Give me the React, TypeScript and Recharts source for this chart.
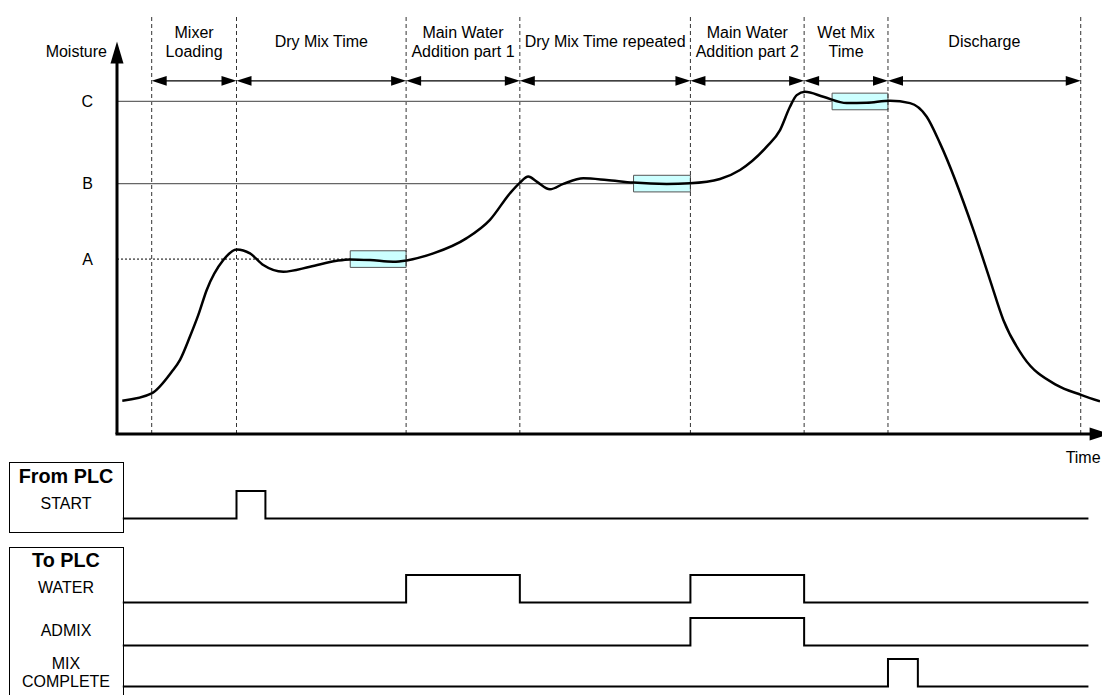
import React from 'react';
import { ComposedChart, LineChart, Line, XAxis, YAxis, ReferenceLine, ReferenceArea } from 'recharts';

const FONT = '"Liberation Sans", Arial, Helvetica, sans-serif';
const FS = 16;

// ---- data (time in arbitrary units, moisture in arbitrary units) ----
const phaseBounds = [3.6, 12.4, 30, 41.8, 59.5, 71.3, 80, 100];
const phaseNames = [
  'Mixer\nLoading',
  'Dry Mix Time',
  'Main Water\nAddition part 1',
  'Dry Mix Time repeated',
  'Main Water\nAddition part 2',
  'Wet Mix\nTime',
  'Discharge',
];
const phaseArrowLevel = 106.2;

const levelNames = ['A', 'B', 'C'];
const levelValues = [52.6, 75.3, 100];
const toleranceStart = [24.2, 53.6, 74.2];
const toleranceEnd = [30, 59.5, 80];
const toleranceHalf = 2.5;

const curveTime = [
  0.55, 3.6, 5.68, 6.54, 7.57, 8.44, 9.31, 11.03, 12.42, 13.8, 15.18, 17.26, 20.03, 22.8, 24.18, 26.25,
  28.67, 30.06, 32.82, 36.29, 38.7, 40.78, 41.82, 42.68, 43.55, 44.93, 46.31, 48.39, 50.81, 53.57, 57.04,
  59.46, 62.57, 64.65, 67.42, 68.8, 69.83, 70.53, 71.39, 73.29, 75.72, 77.79, 80.21, 82.29, 84.02, 85.4,
  88.86, 90.59, 91.97, 94.04, 97.51, 100.1, 102,
];
const curveMoisture = [
  10.0, 12.2, 18.7, 22.3, 29.3, 35.8, 43.3, 52.3, 55.5, 54.3, 50.8, 48.8, 50.3, 52.1, 52.5, 52.3,
  51.8, 52.2, 54.3, 58.9, 64.4, 72.4, 75.6, 77.4, 75.9, 73.6, 75.2, 76.9, 76.4, 75.6, 75.2,
  75.4, 76.7, 79.4, 86.4, 91.4, 98.4, 101.9, 102.9, 101.4, 99.5, 99.6, 100.2, 99.5, 95.4, 87.4,
  61.4, 46.3, 34.3, 23.2, 14.7, 11.7, 9.8,
];

const startEdges = [0.6, 12.4, 15.4, 100.8];
const startLevels = [0, 1, 0, 0];
const waterEdges = [0.6, 30, 41.8, 59.5, 71.3, 100.8];
const waterLevels = [0, 1, 0, 1, 0, 0];
const admixEdges = [0.6, 59.5, 71.3, 100.8];
const admixLevels = [0, 1, 0, 0];
const mixEdges = [0.6, 80, 83.1, 100.8];
const mixLevels = [0, 1, 0, 0];

const curveData = curveTime.map((t, i) => ({ t, m: curveMoisture[i] }));

// ---- shapes ----
const YAxisArrow = (p: any) => {
  const { x1, y1, x2, y2 } = p;
  return (
    <g>
      <line x1={x1} y1={y1} x2={x2} y2={y2 + 18} stroke="#000" strokeWidth={3} />
      <polygon points={`${x2},${y2} ${x2 - 6.5},${y2 + 22} ${x2 + 6.5},${y2 + 22}`} fill="#000" />
      <text x={x2 - 10} y={y2 + 10} textAnchor="end" dominantBaseline="central" fontFamily={FONT} fontSize={FS} fill="#000">
        Moisture
      </text>
    </g>
  );
};

const XAxisArrow = (p: any) => {
  const { x1, y1, x2, y2 } = p;
  return (
    <g>
      <line x1={x1 - 1.5} y1={y1} x2={x2 - 18} y2={y2} stroke="#000" strokeWidth={3} />
      <polygon points={`${x2},${y2} ${x2 - 20},${y2 - 6.5} ${x2 - 20},${y2 + 6.5}`} fill="#000" />
      <text x={x2 - 44} y={y2 + 23} textAnchor="start" dominantBaseline="central" fontFamily={FONT} fontSize={FS} fill="#000">
        Time
      </text>
    </g>
  );
};

const makePhaseArrow = (name: string) => (p: any) => {
  const { x1, y1, x2 } = p;
  const y = y1;
  const L = 15;
  const H = 4.8;
  const lines = name.split('\n');
  const cx = (x1 + x2) / 2;
  return (
    <g>
      <line x1={x1 + L - 1} y1={y} x2={x2 - L + 1} y2={y} stroke="#000" strokeWidth={1.4} />
      <polygon points={`${x1},${y} ${x1 + L},${y - H} ${x1 + L},${y + H}`} fill="#000" />
      <polygon points={`${x2},${y} ${x2 - L},${y - H} ${x2 - L},${y + H}`} fill="#000" />
      {lines.length === 1 ? (
        <text x={cx} y={y - 39} textAnchor="middle" dominantBaseline="central" fontFamily={FONT} fontSize={FS} fill="#000">
          {lines[0]}
        </text>
      ) : (
        lines.map((ln, i) => (
          <text key={i} x={cx} y={y - 48 + i * 19} textAnchor="middle" dominantBaseline="central" fontFamily={FONT} fontSize={FS} fill="#000">
            {ln}
          </text>
        ))
      )}
    </g>
  );
};

function SignalChart({ edges, levels, top }: { edges: number[]; levels: number[]; top: number }) {
  const data = edges.map((t, i) => ({ t, v: levels[i] }));
  return (
    <div style={{ position: 'absolute', left: 0, top }}>
      <LineChart width={1102} height={47.5} data={data} margin={{ top: 10, right: 2, bottom: 10, left: 117 }}>
        <XAxis type="number" dataKey="t" domain={[0, 102]} hide />
        <YAxis type="number" domain={[0, 1]} hide />
        <Line type="stepAfter" dataKey="v" stroke="#000" strokeWidth={2} dot={false} isAnimationActive={false} />
      </LineChart>
    </div>
  );
}

const txt = (s: string, cx: number, cy: number, bold = false, size = FS) => (
  <div
    style={{
      position: 'absolute',
      left: cx,
      top: cy,
      transform: 'translate(-50%, -50%)',
      fontFamily: FONT,
      fontSize: size,
      fontWeight: bold ? 700 : 400,
      lineHeight: 1,
      whiteSpace: 'nowrap',
      color: '#000',
    }}
  >
    {s}
  </div>
);

export default function App() {
  return (
    <div style={{ position: 'absolute', left: 0, top: 0, width: 1102, height: 695, overflow: 'hidden', background: '#fff' }}>
      <div style={{ position: 'absolute', left: 0, top: 0 }}>
        <ComposedChart width={1102} height={470} data={curveData} margin={{ top: 15, right: 2, bottom: 36, left: 0 }}>
          <XAxis type="number" dataKey="t" domain={[0, 102]} hide allowDataOverflow />
          <YAxis
            type="number"
            domain={[0, 126]}
            width={117}
            ticks={levelValues}
            tickFormatter={(v: number) => levelNames[levelValues.indexOf(v)] ?? ''}
            axisLine={false}
            tickLine={false}
            tickSize={0}
            tickMargin={24}
            tick={{ fill: '#000', fontSize: FS, fontFamily: FONT }}
            allowDataOverflow
          />
          {phaseBounds.map((b) => (
            <ReferenceLine key={`v${b}`} x={b} stroke="#333" strokeWidth={1} strokeDasharray="4 3" />
          ))}
          {levelValues.map((lv, i) => (
            <ReferenceLine
              key={`l${i}`}
              segment={[{ x: 0, y: lv }, { x: toleranceStart[i], y: lv }]}
              stroke={i === 0 ? '#000' : '#666'}
              strokeWidth={i === 0 ? 1 : 1.3}
              strokeDasharray={i === 0 ? '2 2' : undefined}
            />
          ))}
          {levelValues.map((lv, i) => (
            <ReferenceArea
              key={`a${i}`}
              x1={toleranceStart[i]}
              x2={toleranceEnd[i]}
              y1={lv - toleranceHalf}
              y2={lv + toleranceHalf}
              fill="#CCFFFF"
              fillOpacity={1}
              stroke="#555"
              strokeWidth={1}
            />
          ))}
          {phaseNames.map((n, i) => (
            <ReferenceLine
              key={`p${i}`}
              segment={[{ x: phaseBounds[i], y: phaseArrowLevel }, { x: phaseBounds[i + 1], y: phaseArrowLevel }]}
              shape={makePhaseArrow(n)}
            />
          ))}
          <ReferenceLine segment={[{ x: 0, y: 0 }, { x: 0, y: 118 }]} shape={YAxisArrow} ifOverflow="visible" />
          <ReferenceLine segment={[{ x: 0, y: 0 }, { x: 103, y: 0 }]} shape={XAxisArrow} ifOverflow="visible" />
          <Line type="monotone" dataKey="m" stroke="#000" strokeWidth={2.5} dot={false} isAnimationActive={false} />
        </ComposedChart>
      </div>

      <SignalChart edges={startEdges} levels={startLevels} top={481.2} />
      <SignalChart edges={waterEdges} levels={waterLevels} top={565.2} />
      <SignalChart edges={admixEdges} levels={admixLevels} top={607.5} />
      <SignalChart edges={mixEdges} levels={mixLevels} top={649.2} />

      <div style={{ position: 'absolute', left: 9, top: 462, width: 115, height: 71, border: '1px solid #000', boxSizing: 'border-box' }} />
      <div style={{ position: 'absolute', left: 9, top: 547, width: 115, height: 170, border: '1px solid #000', boxSizing: 'border-box' }} />
      {txt('From PLC', 66, 477, true, 19.8)}
      {txt('START', 66, 504)}
      {txt('To PLC', 66, 561, true, 19.8)}
      {txt('WATER', 66, 588)}
      {txt('ADMIX', 66, 631)}
      {txt('MIX', 66, 664)}
      {txt('COMPLETE', 66, 682)}
    </div>
  );
}
